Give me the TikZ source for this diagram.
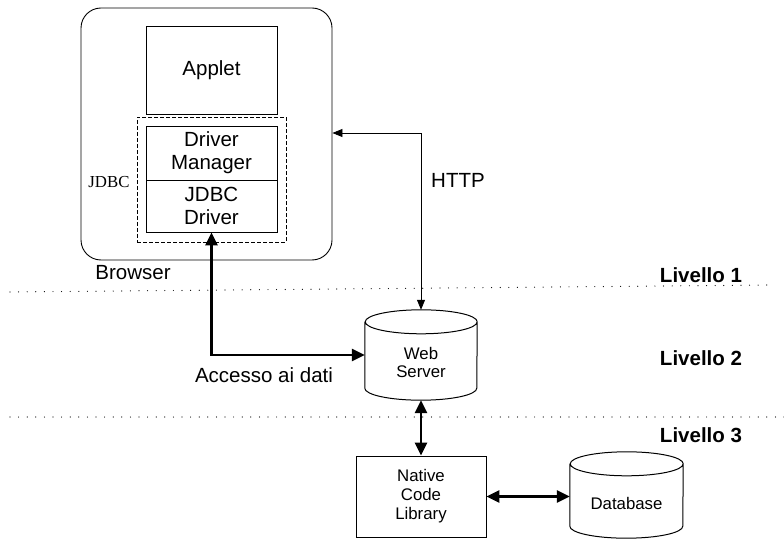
\documentclass[tikz,border=0pt]{standalone}
\usepackage{fontspec}
\setmainfont{Liberation Sans}
\newfontfamily\jdbcfont{Liberation Serif}
\usetikzlibrary{arrows.meta,calc}

\tikzset{
  box/.style={draw, line width=0.9pt, rectangle, inner sep=0pt, align=center, font=\fontsize{20.5}{23}\selectfont},
  smallbox/.style={draw, line width=0.9pt, rectangle, inner sep=0pt, align=center, font=\fontsize{16.8}{19}\selectfont},
  drumnode/.style={rectangle, inner sep=0pt},
  drumline/.style={line width=1pt},
  levelsep/.style={line width=1.2pt, dash pattern=on 0pt off 8.6pt, line cap=round},
  thinlink/.style={line width=0.8pt, {Triangle[length=10pt,width=8pt]}-{Triangle[length=10pt,width=8pt]}},
  thicklink/.style={line width=2.6pt, {Triangle[length=13pt,width=12pt]}-{Triangle[length=13pt,width=12pt]}},
  plain/.style={font=\fontsize{20.5}{23}\selectfont},
  level/.style={font=\fontsize{20.5}{23}\selectfont\bfseries},
  small/.style={font=\fontsize{16.8}{18}\selectfont, align=center}
}

\begin{document}
\begin{tikzpicture}[x=1pt,y=-1pt]
\useasboundingbox (0,0) rectangle (784,540);

% browser frame and its components
\node[draw, line width=0.9pt, rounded corners=20pt, minimum width=251pt, minimum height=252pt] (br) at (206.5,134) {};
\node[box, minimum width=131pt, minimum height=88pt] (applet) at (211.5,70) {Applet};
\node[draw, line width=0.8pt, dash pattern=on 4pt off 2pt, minimum width=149pt, minimum height=125pt] (jdbcgroup) at (211.5,179.5) {};
\node[box, minimum width=131pt, minimum height=54pt] (dm) at (211.5,153) {Driver\\Manager};
\node[box, minimum width=131pt, minimum height=52pt] (drv) at (211.5,206) {JDBC\\Driver};
\node[font=\jdbcfont\fontsize{16.8}{19}\selectfont] (jdbclabel) at (109,182) {JDBC};
\node[plain] (brlabel) at (133,273) {Browser};

% tier separators
\coordinate (s1a) at (10,292);
\coordinate (s1b) at (773,285);
\coordinate (s2a) at (10,417);
\coordinate (s2b) at (784,417);
\draw[levelsep] (s1a) -- (s1b);
\draw[levelsep] (s2a) -- (s2b);
\node[level] (l1) at (701,275) {Livello 1};
\node[level] (l2) at (701,358) {Livello 2};
\node[level] (l3) at (701,435) {Livello 3};

% web server drum
\node[drumnode, minimum width=112pt, minimum height=90pt] (ws) at (421,355) {};
\draw[drumline] ($(ws.north west)+(0,12)$) -- ($(ws.south west)+(0,-12)$)
  arc (180:360:56pt and 12pt) -- ($(ws.north east)+(0,12)$) arc (0:360:56pt and 12pt);
\node[small] (wstext) at (421,362) {Web\\Server};

% native library
\node[smallbox, minimum width=130pt, minimum height=81pt] (nc) at (421,496.5) {Native\\Code\\Library};

% database drum
\node[drumnode, minimum width=113pt, minimum height=86pt] (db) at (626.5,495) {};
\draw[drumline] ($(db.north west)+(0,12)$) -- ($(db.south west)+(0,-12)$)
  arc (180:360:56.5pt and 12pt) -- ($(db.north east)+(0,12)$) arc (0:360:56.5pt and 12pt);
\node[small] (dbtext) at (626.5,503) {Database};

% connections
\coordinate (httpbend) at (421,133);
\draw[thinlink] (ws.north) -- (httpbend) -- (httpbend -| br.east);
\node[plain] (http) at (458,180) {HTTP};

\draw[thicklink] (drv.south) |- (ws.west);
\node[plain] (acc) at (264,375) {Accesso ai dati};

\draw[thicklink] (ws.south) -- (nc.north);
\draw[thicklink] (nc.east) -- (nc.east -| db.west);
\end{tikzpicture}
\end{document}
